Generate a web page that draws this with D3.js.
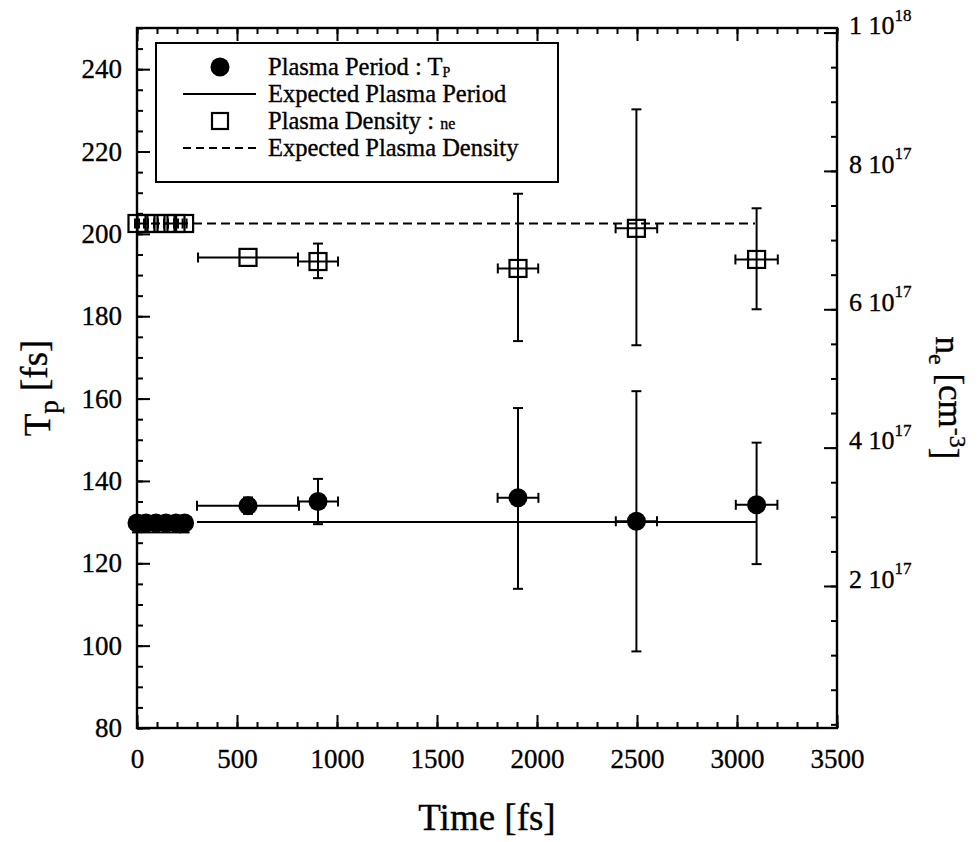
<!DOCTYPE html>
<html>
<head>
<meta charset="utf-8">
<script src="https://cdn.jsdelivr.net/npm/d3@7"></script>
<style>
  html, body { margin: 0; padding: 0; background: #fff; }
  svg { display: block; font-family: "Liberation Serif", "DejaVu Serif", serif; }
  svg text { stroke: #000; stroke-width: 0.35px; }
</style>
</head>
<body>
<script>
// Measured plasma period T_p (fs) versus delay time (fs)
const tpTime   = [0, 45, 95, 145, 195, 238, 555, 905, 1905, 2497, 3098];
const tpValue  = [129.8, 129.8, 129.8, 129.8, 129.8, 129.8, 134.0, 135.0, 135.9, 130.2, 134.2];
const tpLow    = [127.5, 127.5, 127.5, 127.5, 127.5, 127.5, 132.0, 129.5, 113.8, 98.6, 119.8];
const tpHigh   = [131.5, 131.5, 131.5, 131.5, 131.5, 131.5, 136.0, 140.5, 157.7, 161.8, 149.3];
const tpTimeErr = [10, 10, 10, 10, 10, 10, 255, 100, 102, 103, 104];

// Measured plasma density n_e (cm^-3) versus delay time (fs)
const neTime   = [0, 45, 95, 145, 195, 238, 555, 905, 1905, 2497, 3098];
const neValue  = [7.24e17, 7.24e17, 7.24e17, 7.24e17, 7.24e17, 7.24e17, 6.75e17, 6.69e17, 6.59e17, 7.17e17, 6.72e17];
const neLow    = [7.24e17, 7.24e17, 7.24e17, 7.24e17, 7.24e17, 7.24e17, 6.75e17, 6.45e17, 5.54e17, 5.48e17, 6.00e17];
const neHigh   = [7.24e17, 7.24e17, 7.24e17, 7.24e17, 7.24e17, 7.24e17, 6.75e17, 6.95e17, 7.67e17, 8.89e17, 7.46e17];
const neTimeErr = [10, 10, 10, 10, 10, 10, 250, 100, 101, 104, 106];

// Expected values (horizontal reference lines)
const expectedPeriod  = { value: 130.0, from: 300, to: 3095 };
const expectedDensity = { value: 7.24e17, from: 0, to: 3090 };

// Axis ticks
const xMajor = [0, 500, 1000, 1500, 2000, 2500, 3000, 3500];
const xMinor = d3.range(0, 3501, 100);
const yMajor = [80, 100, 120, 140, 160, 180, 200, 220, 240];
const yMinor = d3.range(80, 251, 5);
const nMajor = [2e17, 4e17, 6e17, 8e17, 1e18];
const nMinor = d3.range(0, 21).map(k => k * 0.5e17);
const nTickMantissa = ["2", "4", "6", "8", "1"];
const nTickExponent = ["17", "17", "17", "17", "18"];

const legendItems = [
  { kind: "circle", label: "Plasma Period : T", sub: "P" },
  { kind: "line", label: "Expected Plasma Period" },
  { kind: "square", label: "Plasma Density : ", small: "ne" },
  { kind: "dash", label: "Expected Plasma Density" }
];

const W = 979, H = 842;
const L = 137, R = 837, T = 28, B = 728;

const svg = d3.select("body").append("svg").attr("width", W).attr("height", H);
svg.append("rect").attr("width", W).attr("height", H).attr("fill", "#fff");

const x = d3.scaleLinear().domain([0, 3500]).range([L, R]);
const y = d3.scaleLinear().domain([80, 250]).range([B, T]);
const yN = d3.scaleLinear().domain([-0.053e17, 1.0066e18]).range([B, T]);

const ink = "#000";
const fontTick = 27;

// ---- axes ----
function styleAxis(g) {
  g.select(".domain").remove();
  g.selectAll(".tick line").attr("stroke", ink).attr("stroke-width", 2);
  g.selectAll("text").attr("fill", ink).attr("font-family", "Liberation Serif, serif");
}

// bottom
svg.append("g").attr("transform", `translate(0,${B})`)
  .call(d3.axisBottom(x).tickValues(xMinor).tickSize(-6).tickFormat(""))
  .call(styleAxis);
svg.append("g").attr("transform", `translate(0,${B})`)
  .call(d3.axisBottom(x).tickValues(xMajor).tickSize(-13).tickPadding(21).tickFormat(d3.format("d")))
  .call(styleAxis)
  .selectAll("text").attr("font-size", fontTick);

// top (mirror ticks)
svg.append("g").attr("transform", `translate(0,${T})`)
  .call(d3.axisTop(x).tickValues(xMinor).tickSize(-6).tickFormat(""))
  .call(styleAxis);
svg.append("g").attr("transform", `translate(0,${T})`)
  .call(d3.axisTop(x).tickValues(xMajor).tickSize(-13).tickFormat(""))
  .call(styleAxis);

// left
svg.append("g").attr("transform", `translate(${L},0)`)
  .call(d3.axisLeft(y).tickValues(yMinor).tickSize(-6).tickFormat(""))
  .call(styleAxis);
svg.append("g").attr("transform", `translate(${L},0)`)
  .call(d3.axisLeft(y).tickValues(yMajor).tickSize(-13).tickPadding(15).tickFormat(d3.format("d")))
  .call(styleAxis)
  .selectAll("text").attr("font-size", fontTick);

// right (density)
svg.append("g").attr("transform", `translate(${R},0)`)
  .call(d3.axisRight(yN).tickValues(nMinor).tickSize(-6).tickFormat(""))
  .call(styleAxis);
const rightAxis = svg.append("g").attr("transform", `translate(${R},0)`)
  .call(d3.axisRight(yN).tickValues(nMajor).tickSize(-13).tickPadding(12).tickFormat(""))
  .call(styleAxis);
rightAxis.selectAll(".tick").each(function(d, i) {
  const t = d3.select(this).select("text")
    .attr("font-size", 26).attr("dy", "0.05em").attr("fill", ink);
  t.append("tspan").text(nTickMantissa[i] + " 10");
  t.append("tspan").attr("font-size", 17).attr("dy", "-0.8em").text(nTickExponent[i]);
});

// frame
svg.append("rect").attr("x", L).attr("y", T).attr("width", R - L).attr("height", B - T)
  .attr("fill", "none").attr("stroke", ink).attr("stroke-width", 2.4);

// ---- axis titles ----
svg.append("text").attr("x", (L + R) / 2).attr("y", 830)
  .attr("text-anchor", "middle").attr("font-size", 37).attr("fill", ink)
  .text("Time [fs]");

const yt = svg.append("text")
  .attr("transform", `translate(50,${(T + B) / 2 + 10}) rotate(-90)`)
  .attr("text-anchor", "middle").attr("font-size", 37).attr("fill", ink);
yt.append("tspan").text("T");
yt.append("tspan").attr("font-size", 27).attr("dy", "0.3em").text("p");
yt.append("tspan").attr("dy", "-0.3em").text(" [fs]");

const nt = svg.append("text")
  .attr("transform", `translate(936,${(T + B) / 2 + 20}) rotate(90)`)
  .attr("text-anchor", "middle").attr("font-size", 35).attr("fill", ink);
nt.append("tspan").text("n");
nt.append("tspan").attr("font-size", 24).attr("dy", "0.3em").text("e");
nt.append("tspan").attr("dy", "-0.3em").text(" [cm");
nt.append("tspan").attr("font-size", 24).attr("dy", "-0.45em").text("-3");
nt.append("tspan").attr("dy", "0.45em").text("]");

// ---- reference lines ----
svg.append("line")
  .attr("x1", x(expectedPeriod.from)).attr("x2", x(expectedPeriod.to))
  .attr("y1", y(expectedPeriod.value)).attr("y2", y(expectedPeriod.value))
  .attr("stroke", ink).attr("stroke-width", 2);
svg.append("line")
  .attr("x1", x(expectedDensity.from)).attr("x2", x(expectedDensity.to))
  .attr("y1", yN(expectedDensity.value)).attr("y2", yN(expectedDensity.value))
  .attr("stroke", ink).attr("stroke-width", 2).attr("stroke-dasharray", "9,5");

// ---- error bars ----
const cap = 5;
function errorBars(g, times, vals, lows, highs, terr, ys) {
  times.forEach((t, i) => {
    const cx = x(t), cy = ys(vals[i]);
    const yl = ys(lows[i]), yh = ys(highs[i]);
    if (Math.abs(yl - yh) > 0.5) {
      g.append("line").attr("x1", cx).attr("x2", cx).attr("y1", yl).attr("y2", yh);
      g.append("line").attr("x1", cx - cap).attr("x2", cx + cap).attr("y1", yl).attr("y2", yl);
      g.append("line").attr("x1", cx - cap).attr("x2", cx + cap).attr("y1", yh).attr("y2", yh);
    }
    const xl = x(t - terr[i]), xh = x(t + terr[i]);
    g.append("line").attr("x1", xl).attr("x2", xh).attr("y1", cy).attr("y2", cy);
    g.append("line").attr("x1", xl).attr("x2", xl).attr("y1", cy - cap).attr("y2", cy + cap);
    g.append("line").attr("x1", xh).attr("x2", xh).attr("y1", cy - cap).attr("y2", cy + cap);
  });
}

const gTp = svg.append("g").attr("stroke", ink).attr("stroke-width", 2);
errorBars(gTp, tpTime, tpValue, tpLow, tpHigh, tpTimeErr, y);
svg.append("g").selectAll("circle").data(tpTime).join("circle")
  .attr("cx", d => x(d)).attr("cy", (d, i) => y(tpValue[i])).attr("r", 9.5).attr("fill", ink);

const gNe = svg.append("g").attr("stroke", ink).attr("stroke-width", 2);
errorBars(gNe, neTime, neValue, neLow, neHigh, neTimeErr, yN);
svg.append("g").selectAll("rect").data(neTime).join("rect")
  .attr("x", d => x(d) - 8.5).attr("y", (d, i) => yN(neValue[i]) - 8.5)
  .attr("width", 17).attr("height", 17)
  .attr("fill", "none").attr("stroke", ink).attr("stroke-width", 2.2);

// ---- legend ----
const lg = svg.append("g");
lg.append("rect").attr("x", 156).attr("y", 43).attr("width", 402).attr("height", 139)
  .attr("fill", "#fff").attr("stroke", ink).attr("stroke-width", 2);
const rowY = [70, 97, 124, 151];
legendItems.forEach((it, i) => {
  const cy = rowY[i];
  if (it.kind === "circle") lg.append("circle").attr("cx", 220).attr("cy", cy - 3).attr("r", 9.5).attr("fill", ink);
  if (it.kind === "square") lg.append("rect").attr("x", 212).attr("y", cy - 11).attr("width", 16).attr("height", 16)
      .attr("fill", "none").attr("stroke", ink).attr("stroke-width", 2.2);
  if (it.kind === "line") lg.append("line").attr("x1", 183).attr("x2", 256).attr("y1", cy - 3).attr("y2", cy - 3)
      .attr("stroke", ink).attr("stroke-width", 2);
  if (it.kind === "dash") lg.append("line").attr("x1", 183).attr("x2", 256).attr("y1", cy - 3).attr("y2", cy - 3)
      .attr("stroke", ink).attr("stroke-width", 2).attr("stroke-dasharray", "8,5");
  const t = lg.append("text").attr("x", 268).attr("y", cy + 5).attr("font-size", 24.5).attr("fill", ink);
  t.append("tspan").text(it.label);
  if (it.sub) t.append("tspan").attr("font-size", 14).attr("dy", "0.15em").text(it.sub);
  if (it.small) t.append("tspan").attr("font-size", 16).text(it.small);
});
</script>
</body>
</html>
